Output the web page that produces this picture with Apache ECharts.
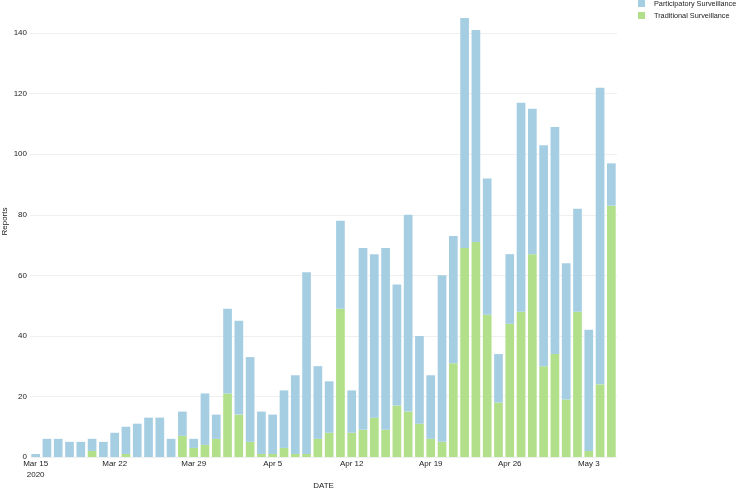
<!DOCTYPE html>
<html>
<head>
<meta charset="utf-8">
<script src="https://cdn.jsdelivr.net/npm/echarts@6/dist/echarts.min.js"></script>
<style>
  html, body { margin: 0; padding: 0; background: #fff; }
  #chart { width: 740px; height: 488px; }
</style>
</head>
<body>
<div id="chart"></div>
<script>
// one bar per day, Mar 15 - May 5 2020
const dates = [
  '2020-03-15', '2020-03-16', '2020-03-17', '2020-03-18', '2020-03-19', '2020-03-20', '2020-03-21',
  '2020-03-22', '2020-03-23', '2020-03-24', '2020-03-25', '2020-03-26', '2020-03-27', '2020-03-28',
  '2020-03-29', '2020-03-30', '2020-03-31', '2020-04-01', '2020-04-02', '2020-04-03', '2020-04-04',
  '2020-04-05', '2020-04-06', '2020-04-07', '2020-04-08', '2020-04-09', '2020-04-10', '2020-04-11',
  '2020-04-12', '2020-04-13', '2020-04-14', '2020-04-15', '2020-04-16', '2020-04-17', '2020-04-18',
  '2020-04-19', '2020-04-20', '2020-04-21', '2020-04-22', '2020-04-23', '2020-04-24', '2020-04-25',
  '2020-04-26', '2020-04-27', '2020-04-28', '2020-04-29', '2020-04-30', '2020-05-01', '2020-05-02',
  '2020-05-03', '2020-05-04', '2020-05-05',
];

// tick labels shown under every 7th day
const tickLabels = {
  '2020-03-15': 'Mar 15\n2020',
  '2020-03-22': 'Mar 22',
  '2020-03-29': 'Mar 29',
  '2020-04-05': 'Apr 5',
  '2020-04-12': 'Apr 12',
  '2020-04-19': 'Apr 19',
  '2020-04-26': 'Apr 26',
  '2020-05-03': 'May 3',
};

const traditional = [
  0, 0, 0, 0, 0, 2, 0, 0, 1, 0, 0, 0, 0, 7, 3, 4, 6, 21, 14, 5, 1, 1, 3, 1, 1, 6,
  8, 49, 8, 9, 13, 9, 17, 15, 11, 6, 5, 31, 69, 71, 47, 18, 44, 48, 67, 30, 34, 19, 48, 2, 24, 83,
];

const participatory = [
  1, 6, 6, 5, 5, 4, 5, 8, 9, 11, 13, 13, 6, 8, 3, 17, 8, 28, 31, 28, 14, 13, 19, 26, 60, 24,
  17, 29, 14, 60, 54, 60, 40, 65, 29, 21, 55, 42, 76, 70, 45, 16, 23, 69, 48, 73, 75, 45, 34, 40, 98, 14,
];

const seriesNames = ['Participatory Surveillance', 'Traditional Surveillance'];
const blue = '#a6cee3';
const green = '#b2df8a';

const font = 'Liberation Sans, Arial, Helvetica, sans-serif';

const chart = echarts.init(document.getElementById('chart'));

chart.setOption({
  animation: false,
  textStyle: { fontFamily: font },
  legend: {
    data: seriesNames,
    orient: 'vertical',
    left: 638,
    top: 0,
    padding: 0,
    itemWidth: 7,
    itemHeight: 7,
    itemGap: 5,
    icon: 'rect',
    selectedMode: false,
    textStyle: { fontSize: 7.3, color: '#222', padding: [0, 0, 0, 4] },
  },
  grid: { left: 30, right: 123, top: 18, bottom: 31, outerBoundsMode: 'none' },
  xAxis: {
    type: 'category',
    data: dates,
    name: 'DATE',
    nameLocation: 'middle',
    nameGap: 25,
    nameMoveOverlap: false,
    nameTextStyle: { fontSize: 8, color: '#222' },
    axisLine: { show: false },
    axisTick: { show: false },
    axisLabel: {
      interval: (idx) => idx % 7 === 0,
      formatter: (v) => tickLabels[v] || '',
      fontSize: 8,
      color: '#222',
      margin: 1,
      lineHeight: 11,
    },
  },
  yAxis: {
    type: 'value',
    min: 0,
    max: (v) => v.max,
    interval: 20,
    name: 'Reports',
    nameLocation: 'middle',
    nameGap: 21,
    nameMoveOverlap: false,
    nameTextStyle: { fontSize: 8, color: '#222', padding: [0, 0, 0, 32] },
    axisLine: { show: false },
    axisTick: { show: false },
    axisLabel: { fontSize: 8, color: '#222', margin: 3, showMaxLabel: false },
    splitLine: { lineStyle: { color: '#efefef' }, showMaxLine: false },
  },
  series: [
    {
      name: seriesNames[1],
      type: 'bar',
      stack: 'reports',
      barWidth: '77%',
      itemStyle: { color: green },
      data: traditional,
    },
    {
      name: seriesNames[0],
      type: 'bar',
      stack: 'reports',
      barWidth: '77%',
      itemStyle: { color: blue },
      data: participatory,
    },
  ],
});
</script>
</body>
</html>
